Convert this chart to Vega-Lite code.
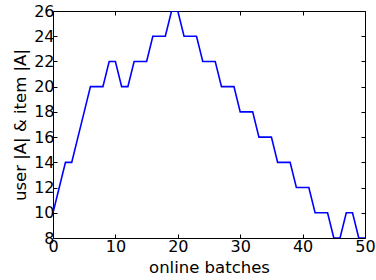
{
  "$schema": "https://vega.github.io/schema/vega-lite/v6.json",
  "width": 312,
  "height": 227,
  "autosize": "none",
  "padding": {"left": 53, "top": 11, "right": 11, "bottom": 42},
  "background": "white",
  "config": {
    "font": "DejaVu Sans",
    "view": {"stroke": "black", "strokeWidth": 1},
    "axis": {
      "grid": false,
      "domain": false,
      "tickColor": "black",
      "tickSize": -4,
      "tickWidth": 1,
      "labelFlush": false,
      "labelFont": "DejaVu Sans",
      "labelFontSize": 16,
      "labelColor": "black",
      "titleFont": "DejaVu Sans",
      "titleFontSize": 16.5,
      "titleFontWeight": "normal",
      "titleColor": "black"
    }
  },
  "data": {
    "values": [
      {"batch": 0, "size": 10}, {"batch": 1, "size": 12}, {"batch": 2, "size": 14},
      {"batch": 3, "size": 14}, {"batch": 4, "size": 16}, {"batch": 5, "size": 18},
      {"batch": 6, "size": 20}, {"batch": 7, "size": 20}, {"batch": 8, "size": 20},
      {"batch": 9, "size": 22}, {"batch": 10, "size": 22}, {"batch": 11, "size": 20},
      {"batch": 12, "size": 20}, {"batch": 13, "size": 22}, {"batch": 14, "size": 22},
      {"batch": 15, "size": 22}, {"batch": 16, "size": 24}, {"batch": 17, "size": 24},
      {"batch": 18, "size": 24}, {"batch": 19, "size": 26}, {"batch": 20, "size": 26},
      {"batch": 21, "size": 24}, {"batch": 22, "size": 24}, {"batch": 23, "size": 24},
      {"batch": 24, "size": 22}, {"batch": 25, "size": 22}, {"batch": 26, "size": 22},
      {"batch": 27, "size": 20}, {"batch": 28, "size": 20}, {"batch": 29, "size": 20},
      {"batch": 30, "size": 18}, {"batch": 31, "size": 18}, {"batch": 32, "size": 18},
      {"batch": 33, "size": 16}, {"batch": 34, "size": 16}, {"batch": 35, "size": 16},
      {"batch": 36, "size": 14}, {"batch": 37, "size": 14}, {"batch": 38, "size": 14},
      {"batch": 39, "size": 12}, {"batch": 40, "size": 12}, {"batch": 41, "size": 12},
      {"batch": 42, "size": 10}, {"batch": 43, "size": 10}, {"batch": 44, "size": 10},
      {"batch": 45, "size": 8}, {"batch": 46, "size": 8}, {"batch": 47, "size": 10},
      {"batch": 48, "size": 10}, {"batch": 49, "size": 8}, {"batch": 50, "size": 8}
    ]
  },
  "layer": [
    {
      "mark": {"type": "line", "color": "#0000ff", "strokeWidth": 1.6, "clip": true},
      "encoding": {
        "x": {
          "field": "batch", "type": "quantitative",
          "scale": {"domain": [0, 50], "nice": false},
          "axis": {"values": [0, 10, 20, 30, 40, 50], "title": "online batches", "labelPadding": 4, "titlePadding": 5}
        },
        "y": {
          "field": "size", "type": "quantitative",
          "scale": {"domain": [8, 26], "nice": false, "zero": false},
          "axis": {"values": [8, 10, 12, 14, 16, 18, 20, 22, 24, 26], "title": "user |A| & item |A|", "labelPadding": 3, "titlePadding": 5}
        }
      }
    },
    {
      "mark": {"type": "line", "opacity": 0},
      "encoding": {
        "x": {
          "field": "batch", "type": "quantitative",
          "scale": {"domain": [0, 50], "nice": false},
          "axis": {"orient": "top", "values": [0, 10, 20, 30, 40, 50], "labels": false, "title": null}
        },
        "y": {
          "field": "size", "type": "quantitative",
          "scale": {"domain": [8, 26], "nice": false, "zero": false},
          "axis": {"orient": "right", "values": [8, 10, 12, 14, 16, 18, 20, 22, 24, 26], "labels": false, "title": null}
        }
      }
    }
  ],
  "resolve": {"axis": {"x": "independent", "y": "independent"}}
}
